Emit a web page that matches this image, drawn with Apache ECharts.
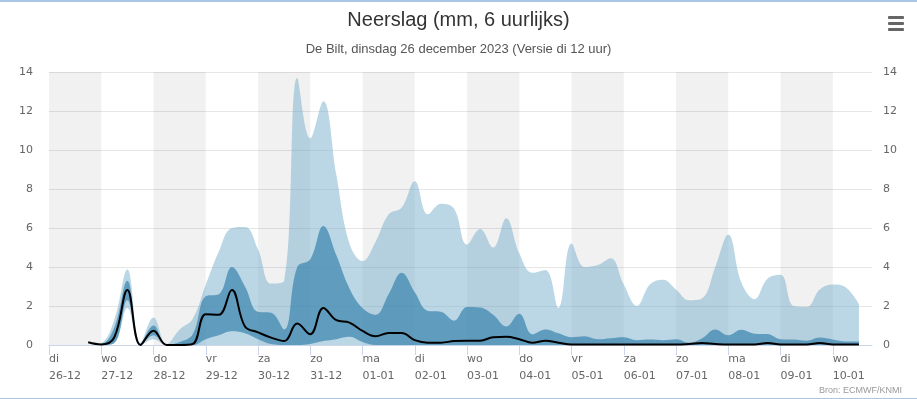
<!DOCTYPE html>
<html>
<head>
<meta charset="utf-8">
<script src="https://cdn.jsdelivr.net/npm/echarts@6/dist/echarts.min.js"></script>
<style>
  html, body { margin: 0; padding: 0; background: #fff; }
  #chart { width: 917px; height: 399px; box-sizing: border-box; border-top: 2px solid #a9c6e4; border-bottom: 1px solid #a9c6e4; }
</style>
</head>
<body>
<div id="chart"></div>
<script>
// dag-labels op de x-as (elke 24 uur)
const dayLabels = ['di\n26-12', 'wo\n27-12', 'do\n28-12', 'vr\n29-12', 'za\n30-12', 'zo\n31-12',
  'ma\n01-01', 'di\n02-01', 'wo\n03-01', 'do\n04-01', 'vr\n05-01', 'za\n06-01',
  'zo\n07-01', 'ma\n08-01', 'di\n09-01', 'wo\n10-01']

// tijdstappen van 6 uur vanaf di 26-12 00 uur; eerste waarde op stap 3 (18 uur)
const stepsPerDay = 4
const nSteps = 64
const firstStep = 3

// ensemble minimum / maximum (mm per 6 uur)
const ensMin = [0, 0, 0.1, 1.9, 0, 0.3, 0, 0, 0, 0,
  0, 0, 0, 0, 0, 0, 0, 0, 0, 0,
  0, 0, 0, 0, 0, 0, 0, 0, 0, 0,
  0, 0, 0, 0, 0, 0, 0, 0, 0, 0,
  0, 0, 0, 0, 0, 0, 0, 0, 0, 0,
  0, 0, 0, 0, 0, 0, 0, 0, 0, 0]
const ensMax = [0, 0.1, 1.3, 3.87, 0.1, 1.41, 0.05, 0.8, 1.35, 3.1,
  4.8, 6.0, 6.05, 4.9, 3.15, 3.3, 13.7, 10.6, 12.5, 8.7,
  5.2, 4.3, 5.3, 6.7, 7.05, 8.4, 6.7, 7.25, 7.0, 5.15,
  5.95, 5.0, 6.5, 4.7, 3.7, 3.85, 1.9, 5.2, 4.0, 4.1,
  4.45, 3.1, 2.0, 3.1, 3.35, 2.85, 2.3, 2.4, 4.0, 5.65,
  3.2, 2.35, 3.4, 3.6, 2.0, 1.95, 2.85, 3.1, 2.95, 2.1]

// 25% en 75% percentiel
const p25 = [0, 0, 0.1, 2.3, 0, 0.5, 0, 0, 0, 0.3,
  0.5, 0.7, 0.6, 0.3, 0.05, 0, 0, 0.05, 0.2, 0.3,
  0.42, 0.15, 0, 0, 0, 0, 0, 0, 0, 0,
  0, 0, 0, 0, 0, 0, 0, 0, 0, 0,
  0, 0, 0, 0, 0, 0, 0, 0, 0, 0,
  0, 0, 0, 0, 0, 0, 0, 0, 0, 0]
const p75 = [0, 0.05, 0.9, 3.3, 0.05, 1.0, 0, 0.15, 0.55, 2.5,
  2.6, 4.0, 3.0, 1.7, 1.65, 0.8, 4.0, 4.4, 6.1, 4.6,
  2.9, 1.9, 1.55, 2.6, 3.7, 2.7, 1.75, 1.7, 1.25, 1.95,
  1.92, 1.55, 0.95, 1.6, 0.55, 0.8, 0.6, 0.4, 0.45, 0.3,
  0.35, 0.4, 0.25, 0.28, 0.25, 0.3, 0.12, 0.35, 0.8, 0.5,
  0.78, 0.58, 0.56, 0.3, 0.28, 0.22, 0.38, 0.28, 0.18, 0.18]

// mediaan (zwarte lijn)
const median = [0.14, 0.03, 0.4, 2.82, 0, 0.73, 0, 0, 0.05, 1.58,
  1.55, 2.82, 0.95, 0.65, 0.38, 0.2, 1.1, 0.55, 1.9, 1.27,
  1.15, 0.72, 0.45, 0.62, 0.62, 0.25, 0.12, 0.12, 0.2, 0.22,
  0.22, 0.4, 0.42, 0.3, 0.12, 0.22, 0.12, 0.03, 0.02, 0.02,
  0.02, 0.02, 0.02, 0.02, 0.02, 0.02, 0.05, 0.1, 0.05, 0.02,
  0.02, 0.02, 0.1, 0.03, 0.02, 0.02, 0.1, 0.03, 0.02, 0.02]

const yTicks = [0, 2, 4, 6, 8, 10, 12, 14]

const categories = []
for (let k = 0; k < nSteps; k++) categories.push('t' + k)

// reeks op de categorie-as zetten
const place = arr => {
  const out = new Array(nSteps).fill(null)
  arr.forEach((v, i) => { out[firstStep + i] = v })
  return out
}
const diff = (hi, lo) => place(hi.map((v, i) => +(v - lo[i]).toFixed(3)))

// grijze banden: om de dag
const bands = []
for (let d = 0; d < dayLabels.length; d += 2) {
  bands.push([{ xAxis: d * stepsPerDay }, { xAxis: Math.min((d + 1) * stepsPerDay, nSteps - 1) }])
}

const myChart = echarts.init(document.getElementById('chart'))

const option = {
  animation: false,
  textStyle: { fontFamily: 'DejaVu Sans' },
  title: [
    {
      text: 'Neerslag (mm, 6 uurlijks)',
      left: 'center',
      top: 3,
      textStyle: { fontFamily: 'Liberation Sans', fontSize: 20, fontWeight: 'normal', color: '#333' }
    },
    {
      text: 'De Bilt, dinsdag 26 december 2023 (Versie di 12 uur)',
      left: 'center',
      top: 36,
      textStyle: { fontFamily: 'Liberation Sans', fontSize: 13, fontWeight: 'normal', color: '#555' }
    },
    {
      text: 'Bron: ECMWF/KNMI',
      right: 10,
      bottom: -2,
      textStyle: { fontFamily: 'Liberation Sans', fontSize: 9, fontWeight: 'normal', color: '#999' }
    }
  ],
  graphic: [
    { type: 'rect', left: 888, top: 14, shape: { width: 16, height: 3, r: 1 }, style: { fill: '#666' } },
    { type: 'rect', left: 888, top: 20, shape: { width: 16, height: 3, r: 1 }, style: { fill: '#666' } },
    { type: 'rect', left: 888, top: 26, shape: { width: 16, height: 3, r: 1 }, style: { fill: '#666' } }
  ],
  grid: { left: 49, right: 45, top: 70, bottom: 53 },
  xAxis: {
    type: 'category',
    data: categories,
    boundaryGap: false,
    axisLine: { lineStyle: { color: '#ccd6eb' } },
    axisTick: { length: 10, interval: stepsPerDay - 1, lineStyle: { color: '#ccd6eb' } },
    splitLine: { show: false },
    axisLabel: {
      interval: stepsPerDay - 1,
      align: 'left',
      margin: 6,
      lineHeight: 17,
      fontSize: 11,
      color: '#666',
      formatter: (v, idx) => dayLabels[idx / stepsPerDay] || ''
    }
  },
  yAxis: [
    {
      type: 'value',
      min: yTicks[0],
      max: yTicks[yTicks.length - 1],
      interval: 2,
      axisLine: { show: false },
      axisTick: { show: false },
      splitLine: { lineStyle: { color: '#e6e6e6' } },
      axisLabel: { margin: 16, fontSize: 11, color: '#666' }
    },
    {
      type: 'value',
      position: 'right',
      min: yTicks[0],
      max: yTicks[yTicks.length - 1],
      interval: 2,
      axisLine: { show: false },
      axisTick: { show: false },
      splitLine: { show: false },
      axisLabel: { margin: 11, fontSize: 11, color: '#666' }
    }
  ],
  series: [
    {
      name: 'banden',
      type: 'line',
      z: 1,
      silent: true,
      symbol: 'none',
      data: place(ensMin),
      lineStyle: { opacity: 0 },
      markArea: {
        silent: true,
        itemStyle: { color: 'rgba(0,0,0,0.055)' },
        data: bands
      }
    },
    {
      name: 'min',
      type: 'line',
      stack: 'ens',
      smooth: 0.4,
      symbol: 'none',
      data: place(ensMin),
      lineStyle: { opacity: 0 }
    },
    {
      name: 'min-max',
      type: 'line',
      stack: 'ens',
      smooth: 0.4,
      symbol: 'none',
      data: diff(ensMax, ensMin),
      lineStyle: { opacity: 0 },
      areaStyle: { color: 'rgba(120,176,204,0.5)', opacity: 1 }
    },
    {
      name: 'p25',
      type: 'line',
      stack: 'perc',
      smooth: 0.4,
      symbol: 'none',
      data: place(p25),
      lineStyle: { opacity: 0 }
    },
    {
      name: 'p25-p75',
      type: 'line',
      stack: 'perc',
      smooth: 0.4,
      symbol: 'none',
      data: diff(p75, p25),
      lineStyle: { opacity: 0 },
      areaStyle: { color: 'rgba(47,126,170,0.65)', opacity: 1 }
    },
    {
      name: 'mediaan',
      type: 'line',
      smooth: 0.4,
      symbol: 'none',
      data: place(median),
      lineStyle: { color: '#000', width: 2 }
    }
  ]
}

myChart.setOption(option)
window.addEventListener('resize', function () {
  myChart.resize()
})
</script>
</body>
</html>
